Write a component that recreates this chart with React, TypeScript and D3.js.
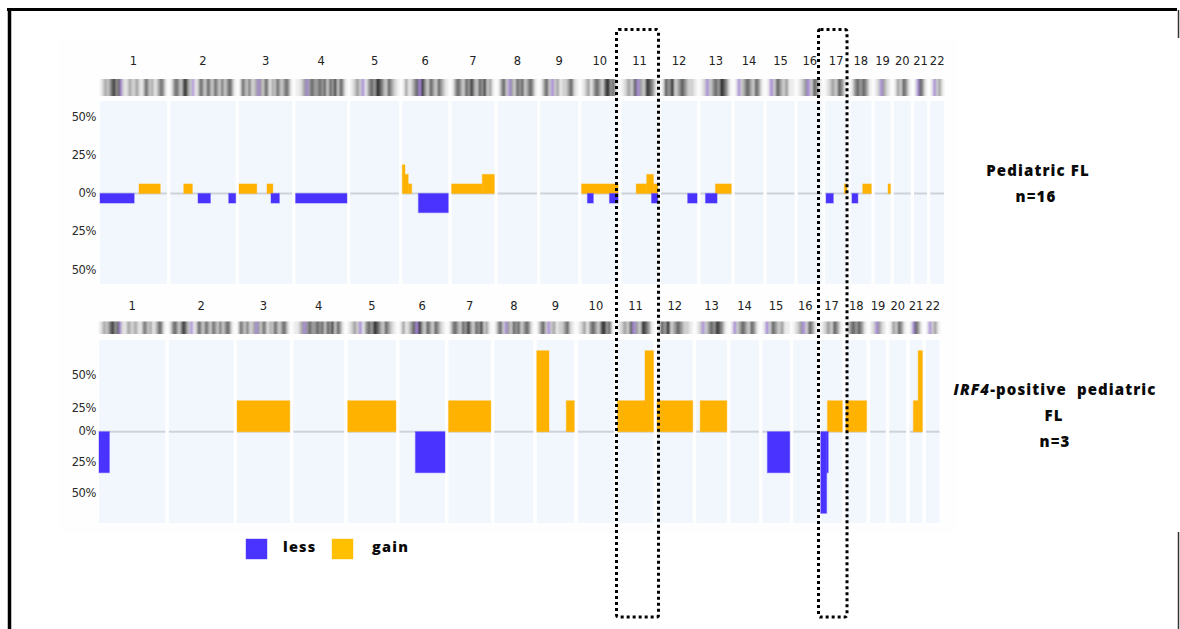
import * as d3 from "d3";

// chromosome names and approximate lengths (Mb) - panel widths follow these
const chromosomes = ["1", "2", "3", "4", "5", "6", "7", "8", "9", "10", "11", "12", "13", "14", "15", "16", "17", "18", "19", "20", "21", "22"];
const chromLengths = [249, 243, 198, 191, 181, 171, 159, 146, 141, 136, 135, 134, 115, 107, 103, 90, 81, 78, 59, 63, 48, 51];

// ideogram band shades per chromosome (. light, - pale, + mid, # dark, @ black, p purple)
const bandPatterns = [
  ".-+-+#@+#p-.-+--+-.-#+-+.-+#+.",
  ".+#+-#@+-p.-#+-#+-#+-#-+#+.",
  ".#+-#--+p+-#+.+-#+-+#+.",
  "..-+p+#++#+#-#+@-#+.",
  ".-+-p.+#+@#+-#+-.",
  ".+.-+#p@+-#+-#+-.",
  ".+#+-#+@+-#+@-+.",
  ".+#-p+-#+#-+#+.",
  ".+#-p-+.--+#-.",
  ".-+.+#+-#@+#.",
  ".-+-#p+-@#+.",
  ".#+@-+#+--.",
  ".-p-+#+@#+.",
  ".p-+#+-#+.",
  ".p-#+-+..",
  ".-+p-#+.",
  ".-+-#+.",
  ".+#+#+.",
  ".-p+-.",
  ".+-#+.",
  ".p#+.",
  ".p-+.",
];

// Pediatric FL (n=16): [chromosome number, start Mb, end Mb, percent]
const pedGain: [number, number, number, number][] = [
  [1, 145, 224, 6.25],
  [2, 50, 82, 6.25],
  [3, 0, 66, 6.25],
  [3, 104, 126, 6.25],
  [6, 0, 10, 18.75],
  [6, 10, 22, 12.5],
  [6, 22, 35, 6.25],
  [7, 0, 114, 6.25],
  [7, 114, 159, 12.5],
  [10, 0, 136, 6.25],
  [11, 55, 94, 6.25],
  [11, 94, 119, 12.5],
  [11, 119, 135, 6.25],
  [13, 56, 115, 6.25],
  [17, 71, 81, 6.25],
  [18, 46, 78, 6.25],
  [19, 50, 59, 6.25],
];
const pedLoss: [number, number, number, number][] = [
  [1, 0, 127, 6.25],
  [2, 103, 149, 6.25],
  [2, 217, 243, 6.25],
  [3, 119, 150, 6.25],
  [4, 0, 191, 6.25],
  [6, 60, 171, 12.5],
  [10, 22, 44, 6.25],
  [10, 104, 136, 6.25],
  [11, 112, 135, 6.25],
  [12, 99, 134, 6.25],
  [13, 19, 62, 6.25],
  [17, 3, 30, 6.25],
  [18, 6, 28, 6.25],
];

// IRF4-positive pediatric FL (n=3)
const irfGain: [number, number, number, number][] = [
  [3, 0, 198, 33.3],
  [5, 0, 181, 33.3],
  [7, 0, 159, 33.3],
  [9, 0, 46, 66.7],
  [9, 111, 141, 33.3],
  [11, 0, 103, 33.3],
  [11, 103, 135, 66.7],
  [12, 0, 134, 33.3],
  [13, 15, 115, 33.3],
  [17, 25, 81, 33.3],
  [18, 0, 78, 33.3],
  [21, 14, 32, 33.3],
  [21, 32, 48, 66.7],
];
const irfLoss: [number, number, number, number][] = [
  [1, 0, 39, 33.3],
  [6, 60, 171, 33.3],
  [15, 19, 103, 33.3],
  [17, 0, 22, 66.7],
  [17, 22, 28, 33.3],
];

const tickValues = [50, 25, 0, -25, -50];
const tickLabels = ["50%", "25%", "0%", "25%", "50%"];

const LOSS = "#4a33ff";
const GAIN = "#ffb200";

const shade: Record<string, string> = {
  ".": "#ececec",
  "-": "#cfcfcf",
  "+": "#999999",
  "#": "#5a5a5a",
  "@": "#222222",
  p: "#a587d6",
};

type Panel = {
  left: number;
  right: number;
  gap: number;
  labelY: number;
  ideoY: number;
  ideoH: number;
  top: number;
  bottom: number;
  y: d3.ScaleLinear<number, number>;
};

const topPanel: Panel = {
  left: 100,
  right: 944,
  gap: 3.3,
  labelY: 61,
  ideoY: 79,
  ideoH: 17,
  top: 101,
  bottom: 284,
  y: d3.scaleLinear().domain([0, 50]).range([193.5, 117]),
};

const bottomPanel: Panel = {
  left: 99,
  right: 939.5,
  gap: 3.5,
  labelY: 306,
  ideoY: 321.5,
  ideoH: 12.5,
  top: 340,
  bottom: 523,
  y: d3.scaleLinear().domain([-66.7, -33.3, 0, 33.3, 66.7]).range([513.3, 472.7, 431.7, 400.7, 350.7]),
};

function chromScales(p: Panel) {
  const total = d3.sum(chromLengths);
  const k = (p.right - p.left - p.gap * (chromLengths.length - 1)) / total;
  const cum = d3.cumsum(chromLengths);
  return chromLengths.map((len, i) => {
    const x0 = p.left + k * (cum[i] - len) + p.gap * i;
    return d3.scaleLinear().domain([0, len]).range([x0, x0 + len * k]);
  });
}

function Genome({ p, gains, losses }: { p: Panel; gains: [number, number, number, number][]; losses: [number, number, number, number][] }) {
  const xs = chromScales(p);
  const y0 = p.y(0);
  return (
    <g>
      {chromosomes.map((name, i) => {
        const x = xs[i];
        const [a, b] = x.range();
        const bands = bandPatterns[i].split("");
        const bw = (b - a) / bands.length;
        return (
          <g key={name}>
            <text x={(a + b) / 2} y={p.labelY} textAnchor="middle" dominantBaseline="middle" fontSize={11.5} fill="#222" fontFamily="DejaVu Sans">
              {name}
            </text>
            <g filter="url(#blur)">
              {bands.map((c, j) => (
                <rect key={j} x={a + j * bw} y={p.ideoY} width={bw + 0.2} height={p.ideoH} fill={shade[c]} />
              ))}
            </g>
            <rect x={a} y={p.top} width={b - a} height={p.bottom - p.top} fill="#f2f7fd" />
            <rect x={a} y={y0 - 1} width={b - a} height={2} fill="#cdd3da" />
          </g>
        );
      })}
      {gains.map(([c, s, e, v], i) => {
        const x = xs[c - 1];
        return (
          <rect key={"g" + i} x={x(s)} y={p.y(v)} width={x(e) - x(s)} height={y0 - p.y(v)} fill={GAIN} stroke={GAIN} strokeOpacity={0.35} strokeWidth={1.2} />
        );
      })}
      {losses.map(([c, s, e, v], i) => {
        const x = xs[c - 1];
        return (
          <rect key={"l" + i} x={x(s)} y={y0} width={x(e) - x(s)} height={p.y(-v) - y0} fill={LOSS} stroke={LOSS} strokeOpacity={0.35} strokeWidth={1.2} />
        );
      })}
      {tickValues.map((t, i) => (
        <text key={"t" + i} x={96} y={p.y(t)} textAnchor="end" dominantBaseline="middle" fontSize={11.5} fill="#2a2a2a" fontFamily="DejaVu Sans" letterSpacing={-0.4}>
          {tickLabels[i]}
        </text>
      ))}
    </g>
  );
}

export default function App() {
  const labelFont = "Open Sans";
  return (
    <svg width={1180} height={629} style={{ position: "absolute", left: 0, top: 0, background: "#fff" }}>
      <defs>
        <filter id="blur" x="-5%" y="-5%" width="110%" height="110%">
          <feGaussianBlur stdDeviation="0.8 0.3" />
        </filter>
      </defs>
      <rect x={0} y={0} width={1180} height={629} fill="#fff" />
      {/* faint figure backgrounds */}
      <rect x={58} y={40} width={899} height={253} fill="#fefefe" />
      <rect x={58} y={293} width={899} height={240} fill="#fefefe" />

      <Genome p={topPanel} gains={pedGain} losses={pedLoss} />
      <Genome p={bottomPanel} gains={irfGain} losses={irfLoss} />

      {/* group labels */}
      <g fontFamily={labelFont} fontWeight={800} fill="#0a0a0a" textAnchor="middle" fontSize={15} letterSpacing={1.1}>
        <text x={1038} y={172} dominantBaseline="middle">Pediatric FL</text>
        <text x={1036} y={198} dominantBaseline="middle">n=16</text>
        <text x={1055} y={391} dominantBaseline="middle">
          <tspan fontStyle="italic">IRF4</tspan>-positive{"\u00a0\u00a0"}pediatric
        </text>
        <text x={1054} y={417} dominantBaseline="middle">FL</text>
        <text x={1055} y={443} dominantBaseline="middle">n=3</text>
      </g>

      {/* legend */}
      <rect x={246} y={539} width={21} height={20} fill={LOSS} stroke={LOSS} strokeOpacity={0.4} />
      <text x={283} y={548} dominantBaseline="middle" fontFamily={labelFont} fontWeight={800} fontSize={14.5} letterSpacing={1.2} fill="#0a0a0a">less</text>
      <rect x={332} y={539} width={21} height={20} fill="#ffc000" stroke="#ffc000" strokeOpacity={0.4} />
      <text x={372} y={548} dominantBaseline="middle" fontFamily={labelFont} fontWeight={800} fontSize={14.5} letterSpacing={1.2} fill="#0a0a0a">gain</text>

      {/* dotted highlight boxes */}
      <rect x={616.5} y={29.5} width={42} height={587.5} rx={2} fill="none" stroke="#000" strokeWidth={3} strokeDasharray="3 3" />
      <rect x={818.5} y={29.5} width={28.5} height={587.5} rx={2} fill="none" stroke="#000" strokeWidth={3} strokeDasharray="3 3" />

      {/* frame */}
      <line x1={7} y1={9.5} x2={1177} y2={9.5} stroke="#000" strokeWidth={3} />
      <line x1={9.5} y1={8} x2={9.5} y2={629} stroke="#000" strokeWidth={3.5} />
      <line x1={1178.5} y1={10} x2={1178.5} y2={38} stroke="#333" strokeWidth={1.5} />
      <line x1={1178.5} y1={532} x2={1178.5} y2={629} stroke="#333" strokeWidth={1.5} />
    </svg>
  );
}
